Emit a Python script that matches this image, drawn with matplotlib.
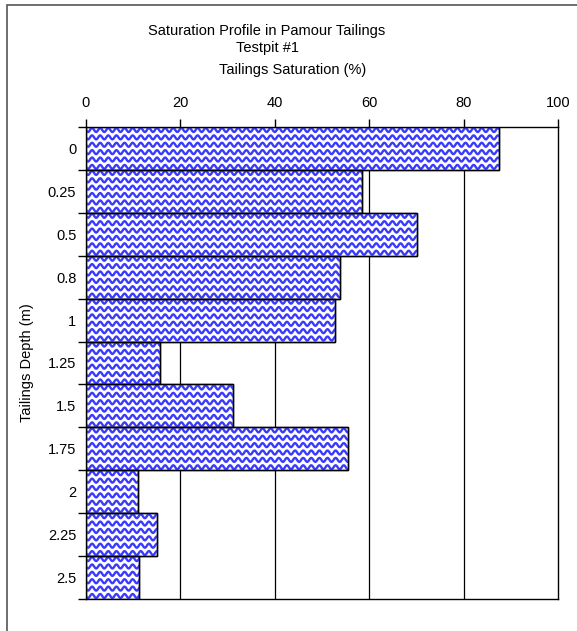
import numpy as np
import matplotlib
matplotlib.use("Agg")
import matplotlib.pyplot as plt
from matplotlib.collections import LineCollection
from matplotlib.patches import Rectangle

plt.rcParams['font.family'] = ['Liberation Sans', 'DejaVu Sans']

depth_labels = ['0', '0.25', '0.5', '0.8', '1', '1.25', '1.5', '1.75', '2', '2.25', '2.5']
saturation = [87.6, 58.5, 70.2, 53.8, 52.7, 15.7, 31.2, 55.6, 11.1, 15.1, 11.3]
x_ticks = [0, 20, 40, 60, 80, 100]

W, H = 577, 631
fig = plt.figure(figsize=(W / 100, H / 100), dpi=100)

# outer chart frame
fig.patches.append(Rectangle((7 / W, -0.05), 1.2, (H - 5) / H + 0.05,
                             transform=fig.transFigure, fill=False,
                             edgecolor='#555555', linewidth=1.2))

ax = fig.add_axes([86 / W, 32 / H, 472 / W, 472 / H])
ypos = np.arange(len(depth_labels))
bars = ax.barh(ypos, saturation, height=1.0, color='white',
               edgecolor='black', linewidth=1.0, zorder=3)

ax.set_xlim(0, 100)
ax.set_ylim(len(depth_labels) - 0.5, -0.5)

# wavy fill pattern inside each bar
period = 1.72      # x data units per wave
row_gap = 0.172    # y data units between wave rows
amp = 0.046
xs = np.linspace(-2, 102, 1500)
for bar in bars:
    y0 = bar.get_y()
    y1 = y0 + bar.get_height()
    segs = []
    yy = y0 + 0.07
    while yy < y1 + row_gap:
        segs.append(np.column_stack([xs, yy + amp * np.sin(2 * np.pi * xs / period)]))
        yy += row_gap
    lc = LineCollection(segs, colors='#3a3aff', linewidths=1.7, zorder=3.5)
    ax.add_collection(lc)
    lc.set_clip_path(bar)
    # redraw the outline above the pattern
    ax.add_patch(Rectangle((bar.get_x(), y0), bar.get_width(), bar.get_height(),
                           fill=False, edgecolor='black', linewidth=1.0, zorder=4))

# vertical grid lines
for xv in x_ticks[1:-1]:
    ax.axvline(xv, color='black', linewidth=0.9, zorder=1)

ax.xaxis.tick_top()
ax.set_xticks(x_ticks)
ax.set_xticklabels([str(v) for v in x_ticks], fontsize=10.5)
ax.tick_params(axis='x', direction='out', length=6, width=1, pad=6)

ax.set_yticks(ypos)
ax.set_yticklabels(depth_labels, fontsize=10.5)
ax.set_yticks(np.arange(-0.5, len(depth_labels)), minor=True)
ax.tick_params(axis='y', which='major', length=0, pad=7)
ax.tick_params(axis='y', which='minor', direction='out', length=6, width=1)

for sp in ax.spines.values():
    sp.set_linewidth(1.0)
    sp.set_color('black')

ax.set_ylabel('Tailings Depth (m)', fontsize=10.5, labelpad=10)

fig.text(267 / W, 1 - 31 / H, 'Saturation Profile in Pamour Tailings',
         ha='center', va='center', fontsize=10.5)
fig.text(267 / W, 1 - 48 / H, 'Testpit #1', ha='center', va='center', fontsize=10.5)
fig.text(293 / W, 1 - 70 / H, 'Tailings Saturation (%)', ha='center', va='center',
         fontsize=10.5)

fig.savefig('out.png', dpi=100)
